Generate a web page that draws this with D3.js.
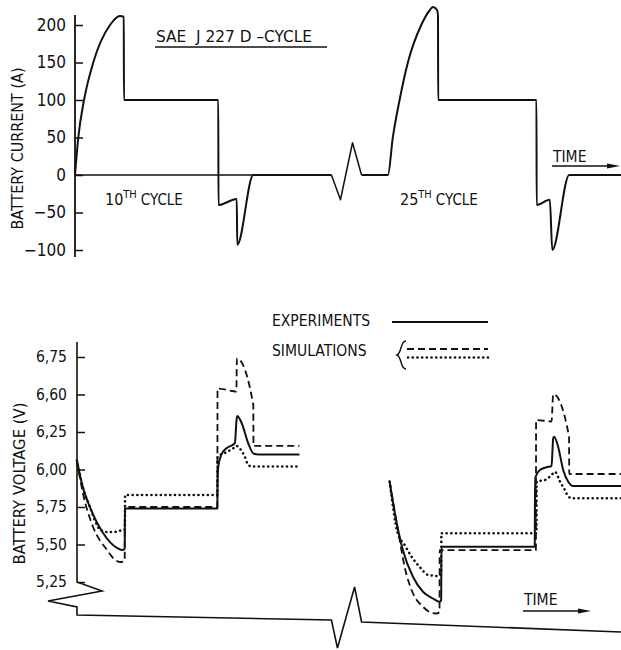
<!DOCTYPE html>
<html>
<head>
<meta charset="utf-8">
<script src="https://cdn.jsdelivr.net/npm/d3@7"></script>
<style>
body { margin: 0; background: #fff; }
svg text { font-family: "DejaVu Sans Condensed", "Liberation Sans Narrow", "DejaVu Sans", sans-serif; font-stretch: condensed; fill: #111; }
</style>
</head>
<body>
<svg id="chart" width="621" height="650"></svg>
<script>
// DATA - time in s, current in A, voltage in V

const currentTicks = [-100, -50, 0, 50, 100, 150, 200]
const voltageTicks = [5.25, 5.5, 5.75, 6.0, 6.25, 6.5, 6.75]
const voltageTickLabels = ['5,25', '5,50', '5,75', '6,00', '6,25', '6,60', '6,75']

// battery current, 10th and 25th SAE J227 D cycle
const cycle10Time = [0, 1.75, 4.8, 9.7, 18.6, 23.9, 25.9, 26.0, 76.1, 76.2, 85.9, 86.2, 94.7, 136.2]
const cycle10Current = [0, 50, 100, 150, 200, 212, 211, 100, 100, -40, -32, -93, 0, 0]
const cycle25Time = [152.2, 166.2, 168.8, 172.4, 176.8, 183.9, 188.5, 190.1, 192.3, 192.8, 192.9, 245.1, 245.2, 252.2, 253.5, 262.5, 290]
const cycle25Current = [0, 0, 50, 100, 150, 200, 220, 224, 220, 212, 100, 100, -40, -33, -100, 0, 0]
const breakTime = [136.2, 141.0, 147.4, 152.2]
const breakCurrent = [0, -33, 43, 0]

// battery voltage, experiments (solid)
const exp10Time = [1, 4.2, 7.9, 14.9, 22.3, 25.0, 26.4, 26.5, 75.6, 75.7, 76.1, 77.8, 80.3, 84.9, 85.8, 86.2, 88.5, 92.0, 94.7, 97.3, 119.2]
const exp10Volt = [6.06, 5.88, 5.75, 5.577, 5.477, 5.463, 5.47, 5.74, 5.74, 5.9, 6.02, 6.1, 6.14, 6.175, 6.33, 6.357, 6.31, 6.175, 6.108, 6.1, 6.1]
const exp25Time = [167.1, 170.6, 174.2, 179.5, 184.8, 190.1, 193.7, 194.5, 194.6, 244.2, 244.3, 244.6, 246.9, 250.4, 253.1, 254.0, 254.5, 256.6, 259.3, 261.9, 264.5, 290]
const exp25Volt = [5.92, 5.66, 5.46, 5.285, 5.185, 5.14, 5.118, 5.13, 5.485, 5.485, 5.8, 5.95, 5.997, 6.015, 6.023, 6.208, 6.219, 6.152, 5.997, 5.92, 5.89, 5.89]

// simulations (dashed)
const simA10Time = [1, 4.2, 9.6, 17.0, 20.2, 23.9, 26.4, 26.5, 75.6, 75.7, 85.7, 86.0, 94.7, 94.8, 119.2]
const simA10Volt = [6.06, 5.843, 5.617, 5.463, 5.41, 5.383, 5.39, 5.75, 5.75, 6.54, 6.52, 6.74, 6.43, 6.157, 6.157]
const simA25Time = [167.1, 171.5, 175.1, 179.5, 184.8, 189.3, 191.9, 193.6, 193.7, 244.8, 244.9, 253.1, 254.0, 262.4, 262.5, 290]
const simA25Volt = [5.92, 5.6, 5.35, 5.175, 5.085, 5.045, 5.04, 5.05, 5.463, 5.463, 6.33, 6.32, 6.503, 6.219, 5.97, 5.97]

// simulations (dotted)
const simB10Time = [1, 4.2, 7.9, 13.3, 17.0, 22.3, 26.0, 26.5, 26.6, 75.6, 75.7, 79.5, 83.9, 85.7, 87.5, 90.2, 92.0, 93.8, 119.2]
const simB10Volt = [6.06, 5.88, 5.75, 5.6, 5.583, 5.585, 5.6, 5.6, 5.83, 5.83, 6.085, 6.11, 6.14, 6.157, 6.14, 6.085, 6.03, 6.02, 6.02]
const simB25Time = [167.1, 171.4, 175.1, 178.7, 183.1, 187.6, 192.9, 194.5, 194.6, 245.1, 245.2, 249.6, 253.1, 254.9, 257.6, 260.2, 262.0, 264.2, 290]
const simB25Volt = [5.92, 5.577, 5.497, 5.42, 5.35, 5.297, 5.29, 5.3, 5.575, 5.575, 5.92, 5.93, 5.963, 5.985, 5.92, 5.863, 5.82, 5.808, 5.808]

const zip = (a, b) => a.map((d, i) => [d, b[i]])


// SVG AND SCALES

const svg = d3.select('#chart')
const ink = '#111'

const x = d3.scaleLinear().domain([0, 290]).range([75, 621])
const yI = d3.scaleLinear().domain([-100, 200]).range([250, 25])
const yV = d3.scaleLinear().domain([5.25, 6.75]).range([582, 357])

const lineI = d3.line().x(d => x(d[0])).y(d => yI(d[1])).curve(d3.curveMonotoneX)
const lineV = d3.line().x(d => x(d[0])).y(d => yV(d[1])).curve(d3.curveMonotoneX)

const styles = {
    solid: { width: 2, dash: null, cap: 'butt' },
    dashed: { width: 1.8, dash: '7,4', cap: 'butt' },
    dotted: { width: 2.6, dash: '0.1,4.6', cap: 'round' }
}

function drawPath(g, d, style) {
    const s = styles[style]
    return g.append('path')
        .attr('d', d)
        .attr('fill', 'none')
        .attr('stroke', ink)
        .attr('stroke-width', s.width)
        .attr('stroke-dasharray', s.dash)
        .attr('stroke-linecap', s.cap)
        .attr('stroke-linejoin', 'round')
}


// TOP: BATTERY CURRENT

const topG = svg.append('g')

const axisI = d3.axisLeft(yI)
    .tickValues(currentTicks)
    .tickSizeInner(-8)
    .tickSizeOuter(0)
    .tickPadding(9)
    .tickFormat(d => d < 0 ? '\u2212' + Math.abs(d) : d)

const gAxisI = topG.append('g')
    .attr('transform', `translate(${x(0)},0)`)
    .call(axisI)
gAxisI.select('.domain').remove()
gAxisI.selectAll('line').attr('stroke', ink).attr('stroke-width', 1.5)
gAxisI.selectAll('text').attr('font-size', 17).attr('fill', ink)

topG.append('line')
    .attr('x1', x(0)).attr('x2', x(0))
    .attr('y1', 15).attr('y2', 257)
    .attr('stroke', ink).attr('stroke-width', 1.8)

topG.append('text')
    .attr('transform', `translate(23,${(yI(-100) + yI(200)) / 2 + 11}) rotate(-90)`)
    .attr('text-anchor', 'middle')
    .attr('font-size', 15)
    .attr('textLength', 162)
    .attr('lengthAdjust', 'spacingAndGlyphs')
    .text('BATTERY CURRENT (A)')

// zero line under the accel ramp
topG.append('line')
    .attr('x1', x(0)).attr('x2', x(136.2))
    .attr('y1', yI(0)).attr('y2', yI(0))
    .attr('stroke', ink).attr('stroke-width', 1.5)

drawPath(topG, lineI(zip(cycle10Time, cycle10Current)), 'solid')
drawPath(topG, d3.line().x(d => x(d[0])).y(d => yI(d[1]))(zip(breakTime, breakCurrent)), 'solid')
    .attr('stroke-width', 1.5)
drawPath(topG, lineI(zip(cycle25Time, cycle25Current)), 'solid')

// title
topG.append('text')
    .attr('x', 156).attr('y', 42)
    .attr('font-size', 16.5)
    .attr('xml:space', 'preserve')
    .attr('textLength', 156)
    .attr('lengthAdjust', 'spacingAndGlyphs')
    .text('SAE  J 227 D \u2013CYCLE')
topG.append('line')
    .attr('x1', 155).attr('x2', 327)
    .attr('y1', 47).attr('y2', 47)
    .attr('stroke', ink).attr('stroke-width', 1.5)

// cycle labels
function cycleLabel(num, px) {
    const t = topG.append('text').attr('x', px).attr('y', 205).attr('font-size', 16)
    t.append('tspan').text(num)
    t.append('tspan').attr('font-size', 11).attr('dy', -7).text('TH')
    t.append('tspan').attr('font-size', 15).attr('dy', 7).attr('dx', 4).text('CYCLE')
}
cycleLabel('10', 105)
cycleLabel('25', 400)

// time arrow
function timeArrow(g, x0, x1, yText, yLine) {
    g.append('text').attr('x', x0 + 1).attr('y', yText).attr('font-size', 15.5).text('TIME')
    g.append('line')
        .attr('x1', x0).attr('x2', x1 - 10)
        .attr('y1', yLine).attr('y2', yLine)
        .attr('stroke', ink).attr('stroke-width', 1.5)
    g.append('path')
        .attr('d', `M${x1 - 13},${yLine - 2.5}L${x1},${yLine}L${x1 - 13},${yLine + 2.5}Z`)
        .attr('fill', ink)
}
timeArrow(topG, 552, 620, 162, 166)


// BOTTOM: BATTERY VOLTAGE

const botG = svg.append('g')
const xAxisV = 77

const axisV = d3.axisLeft(yV)
    .tickValues(voltageTicks)
    .tickSizeInner(-8)
    .tickSizeOuter(0)
    .tickPadding(10)
    .tickFormat((d, i) => voltageTickLabels[i])

const gAxisV = botG.append('g')
    .attr('transform', `translate(${xAxisV},0)`)
    .call(axisV)
gAxisV.select('.domain').remove()
gAxisV.selectAll('line').attr('stroke', ink).attr('stroke-width', 1.5)
gAxisV.selectAll('text').attr('font-size', 15.5).attr('fill', ink)

const base = yV(5.25)
// y axis with its break and the time axis below
const axisOutline = [
    [xAxisV, 342], [xAxisV, base], [xAxisV + 25, base + 9], [xAxisV - 29, base + 19],
    [xAxisV, base + 25], [xAxisV, base + 33], [x(136.2), base + 38], [x(139.4), base + 66],
    [x(148.5), base + 5], [x(152.2), base + 40], [x(290), base + 50]
]
botG.append('path')
    .attr('d', d3.line()(axisOutline))
    .attr('fill', 'none')
    .attr('stroke', ink).attr('stroke-width', 1.6)
    .attr('stroke-linejoin', 'miter')

botG.append('text')
    .attr('transform', `translate(25,${(yV(5.25) + yV(6.75)) / 2 + 14}) rotate(-90)`)
    .attr('text-anchor', 'middle')
    .attr('font-size', 15)
    .attr('textLength', 162)
    .attr('lengthAdjust', 'spacingAndGlyphs')
    .text('BATTERY VOLTAGE (V)')

drawPath(botG, lineV(zip(simB10Time, simB10Volt)), 'dotted')
drawPath(botG, lineV(zip(simB25Time, simB25Volt)), 'dotted')
drawPath(botG, lineV(zip(simA10Time, simA10Volt)), 'dashed')
drawPath(botG, lineV(zip(simA25Time, simA25Volt)), 'dashed')
drawPath(botG, lineV(zip(exp10Time, exp10Volt)), 'solid')
drawPath(botG, lineV(zip(exp25Time, exp25Volt)), 'solid')

timeArrow(botG, 523, 591, 605, 611)

// legend
const legend = botG.append('g')
legend.append('text').attr('x', 272).attr('y', 326).attr('font-size', 15.5).text('EXPERIMENTS')
legend.append('text').attr('x', 272).attr('y', 356).attr('font-size', 15.5).text('SIMULATIONS')
drawPath(legend, 'M392,322L488,322', 'solid')
drawPath(legend, 'M407,349L488,349', 'dashed')
drawPath(legend, 'M408,357.5L488,357.5', 'dotted')
legend.append('path')
    .attr('d', 'M406,341 C400,341 402,353 397,355 C402,357 400,369 406,369')
    .attr('fill', 'none')
    .attr('stroke', ink).attr('stroke-width', 1.4)
</script>
</body>
</html>
